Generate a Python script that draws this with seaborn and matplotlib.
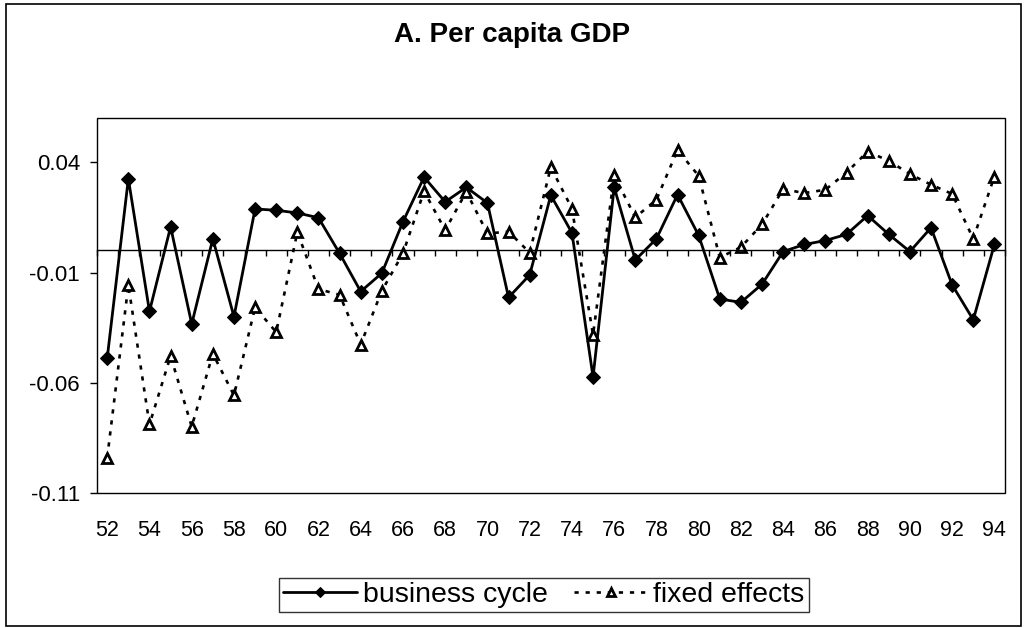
import matplotlib
matplotlib.use("Agg")
import matplotlib.pyplot as plt
from matplotlib.patches import Rectangle
import seaborn as sns
import numpy as np
import pandas as pd

# ---- data ----
years = list(range(52, 95))
business_cycle = [
    -0.0487, 0.0325, -0.0276, 0.0107, -0.0333, 0.0053, -0.0300, 0.0188, 0.0182, 0.0170,
    0.0148, -0.0013, -0.0186, -0.0103, 0.0130, 0.0332, 0.0220, 0.0286, 0.0215, -0.0213,
    -0.0111, 0.0250, 0.0080, -0.0573, 0.0286, -0.0043, 0.0053, 0.0253, 0.0068, -0.0220,
    -0.0235, -0.0153, -0.0005, 0.0027, 0.0045, 0.0073, 0.0158, 0.0073, -0.0005, 0.0103,
    -0.0156, -0.0314, 0.0027,
]
fixed_effects = [
    -0.0938, -0.0157, -0.0788, -0.0478, -0.0798, -0.0468, -0.0656, -0.0258, -0.0370, 0.0083,
    -0.0175, -0.0201, -0.0426, -0.0183, -0.0013, 0.0268, 0.0092, 0.0266, 0.0077, 0.0085,
    -0.0010, 0.0377, 0.0190, -0.0382, 0.0340, 0.0150, 0.0230, 0.0455, 0.0338, -0.0032,
    0.0015, 0.0118, 0.0278, 0.0260, 0.0275, 0.0353, 0.0448, 0.0406, 0.0346, 0.0298,
    0.0256, 0.0053, 0.0335,
]
series_names = ["business cycle", "fixed effects"]
y_ticks = [-0.11, -0.06, -0.01, 0.04]
title = "A. Per capita GDP"

sns.set_style("white")
plt.rcParams["font.family"] = ["Liberation Sans", "DejaVu Sans"]
plt.rcParams["axes.unicode_minus"] = False
plt.rcParams["text.color"] = "black"
plt.rcParams["xtick.color"] = "black"
plt.rcParams["ytick.color"] = "black"
plt.rcParams["xtick.labelcolor"] = "black"
plt.rcParams["ytick.labelcolor"] = "black"

df = pd.DataFrame({"year": years, "bc": business_cycle, "fe": fixed_effects})

fig = plt.figure(figsize=(10.24, 6.28), dpi=100)
ax = fig.add_axes([0.0944, 0.2145, 0.8870, 0.5976])

sns.lineplot(data=df, x="year", y="bc", ax=ax, color="black", lw=2.0,
             marker="D", markersize=7, markeredgecolor="black", markerfacecolor="black",
             label=series_names[0])
sns.lineplot(data=df, x="year", y="fe", ax=ax, color="black", lw=1.9,
             dashes=False, marker="^", markersize=7.5, markeredgecolor="black",
             markerfacecolor="white", markeredgewidth=2.0,
             label=series_names[1])
ax.lines[-1].set_dashes((1.6, 2.6))

ax.set_xlim(years[0] - 0.5, years[-1] + 0.5)
ax.set_ylim(-0.11, 0.06)

# category axis crossing at zero with ticks between categories
ax.spines["bottom"].set_position(("data", 0))
ax.spines["bottom"].set_linewidth(1.0)
ax.spines["bottom"].set_color("black")
ax.set_xticks(np.arange(years[0] - 0.5, years[-1] + 1.0, 1.0))
ax.tick_params(axis="x", direction="out", length=4.5, width=1, color="black",
               labelbottom=False, bottom=True)

for s in ["top", "right", "left"]:
    ax.spines[s].set_visible(False)
ax.add_patch(Rectangle((0, 0), 1, 1, transform=ax.transAxes, fill=False,
                       edgecolor="black", lw=1.0, zorder=5, clip_on=False))

# bottom labels
sec = ax.secondary_xaxis(location=0.0)
sec.set_xticks(years[::2])
sec.set_xticklabels([str(y) for y in years[::2]], fontsize=15.5, color="black")
sec.tick_params(length=0, pad=19.5)
sec.spines["bottom"].set_visible(False)

ax.set_yticks(y_ticks)
ax.set_yticklabels([f"{v:.2f}" for v in y_ticks], fontsize=16, color="black")
ax.tick_params(axis="y", direction="out", length=5, width=1, color="black", pad=7, left=True)

ax.set_xlabel("")
ax.set_ylabel("")

fig.text(0.5, 1 - 41.5 / 628, title, ha="center", va="baseline",
         fontsize=20, fontweight="bold", color="black")

leg = ax.legend(loc="center", bbox_to_anchor=(544 / 1024, 1 - 595 / 628),
                bbox_transform=fig.transFigure, ncol=2, fontsize=20.5,
                frameon=True, fancybox=False, handlelength=2.6,
                columnspacing=0.9, handletextpad=0.2, borderpad=0.15,
                borderaxespad=0, markerscale=0.8)
leg.get_frame().set_edgecolor("black")
leg.get_frame().set_linewidth(1.0)
for t in leg.get_texts():
    t.set_color("black")

fig.patches.append(Rectangle((5.5 / 1024, 2 / 628), 1015.5 / 1024, 622 / 628,
                             transform=fig.transFigure, fill=False,
                             edgecolor="black", lw=1.2))

fig.savefig("out.png", dpi=100)
